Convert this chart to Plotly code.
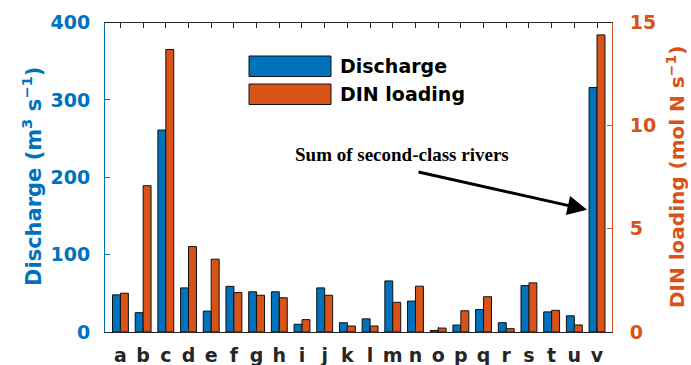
import plotly.graph_objects as go

# ---- data ----
rivers = list("abcdefghijklmnopqrstuv")
discharge = [48, 25, 261, 57, 27, 59, 52, 52, 10, 57, 12, 17,
             66, 40, 2, 9, 29, 12, 60, 26, 21, 316]
din_loading = [1.88, 7.09, 13.69, 4.14, 3.53, 1.91, 1.78, 1.66, 0.6, 1.78, 0.29, 0.29,
               1.44, 2.22, 0.19, 1.03, 1.71, 0.16, 2.38, 1.05, 0.34, 14.4]
series_names = ["Discharge", "DIN loading"]
left_ticks = [0, 100, 200, 300, 400]
right_ticks = [0, 5, 10, 15]

BLUE = "#0072BD"
ORANGE = "#D95319"
FONT = "DejaVu Sans"
W, H = 691, 365

fig = go.Figure()
fig.add_trace(go.Bar(x=rivers, y=discharge, name=series_names[0], marker_color=BLUE,
                     marker_line=dict(color="#111111", width=1), width=0.35, offset=-0.35,
                     yaxis="y", showlegend=False))
fig.add_trace(go.Bar(x=rivers, y=din_loading, name=series_names[1], marker_color=ORANGE,
                     marker_line=dict(color="#111111", width=1), width=0.35, offset=0,
                     yaxis="y2", showlegend=False))

x0, x1 = 105 / W, 612 / W
y0, y1 = 1 - 332 / H, 1 - 22.5 / H

fig.update_layout(
    width=W, height=H, margin=dict(l=0, r=0, t=0, b=0, autoexpand=False),
    paper_bgcolor="white", plot_bgcolor="white",
    font=dict(family=FONT, size=19, color="black"),
    barmode="overlay",
    xaxis=dict(domain=[x0, x1], range=[-0.68, 21.66], type="category",
               tickmode="array", tickvals=rivers, ticktext=rivers, automargin=False,
               showline=True, linecolor="#262626", linewidth=1, mirror="ticks",
               ticks="inside", ticklen=5, tickcolor="#262626", showgrid=False,
               tickfont=dict(family=FONT, size=19, color="#262626", weight="bold"),
               ticklabelstandoff=6),
    yaxis=dict(domain=[y0, y1], range=[0, 400], tickvals=left_ticks, showgrid=False,
               automargin=False, zeroline=False, showline=True, linecolor=BLUE, linewidth=1,
               ticks="inside", ticklen=5, tickcolor=BLUE,
               tickfont=dict(family=FONT, size=19, color=BLUE, weight="bold"),
               ticklabelstandoff=10),
    yaxis2=dict(range=[0, 15], tickvals=right_ticks, overlaying="y", side="right",
                anchor="x", automargin=False, showgrid=False, zeroline=False, showline=True,
                linecolor=ORANGE, linewidth=1, ticks="inside", ticklen=5, tickcolor=ORANGE,
                tickfont=dict(family=FONT, size=19, color=ORANGE, weight="bold"),
                ticklabelstandoff=13),
)

# axis titles
fig.add_annotation(text="<b>Discharge (m<sup>3</sup> s<sup>−1</sup>)</b>", textangle=-90,
                   xref="paper", yref="paper", x=32 / W, y=1 - 177 / H, showarrow=False,
                   font=dict(family=FONT, size=21, color=BLUE), xanchor="center", yanchor="middle")
fig.add_annotation(text="<b>DIN loading (mol N s<sup>−1</sup>)</b>", textangle=-90,
                   xref="paper", yref="paper", x=676 / W, y=1 - 177 / H, showarrow=False,
                   font=dict(family=FONT, size=20, color=ORANGE), xanchor="center", yanchor="middle")

# manual legend
for i, (name, col) in enumerate(zip(series_names, [BLUE, ORANGE])):
    top = 56 + i * 28
    fig.add_shape(type="rect", xref="paper", yref="paper",
                  x0=249 / W, x1=331 / W, y0=1 - (top + 20.5) / H, y1=1 - top / H,
                  fillcolor=col, line=dict(color="#111111", width=1))
    fig.add_annotation(text=f"<b>{name}</b>", xref="paper", yref="paper",
                       x=338 / W, y=1 - (top + 10) / H, showarrow=False,
                       xanchor="left", yanchor="middle",
                       font=dict(family=FONT, size=19, color="black"))

# arrow annotation
fig.add_annotation(text="<b>Sum of second-class rivers</b>", xref="paper", yref="paper",
                   x=402 / W, y=1 - 155 / H, showarrow=False, xanchor="center", yanchor="middle",
                   font=dict(family="Liberation Serif", size=19, color="black"))
fig.add_annotation(x=20.56, y=158, xref="x", yref="y", ax=-170, ay=-38, text="",
                   showarrow=True, arrowhead=2, arrowsize=1.3, arrowwidth=3, arrowcolor="black")

fig.write_html("out.html")
